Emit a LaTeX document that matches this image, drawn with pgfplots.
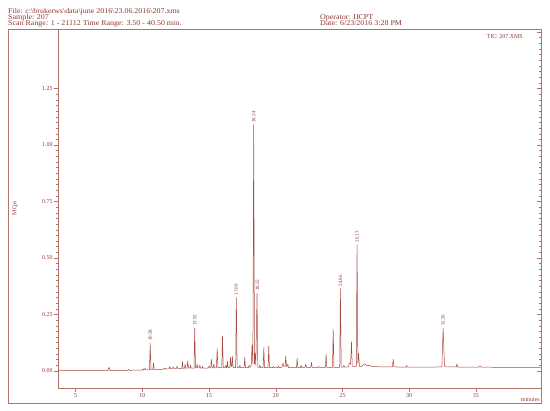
\documentclass[border=0pt]{standalone}
\usepackage{fontspec}
\setmainfont{Liberation Serif}
\newfontfamily\hdrfont[FakeStretch=1.08]{Liberation Serif}
\usepackage{pgfplots}
\pgfplotsset{compat=1.18}

\definecolor{txt}{RGB}{140,55,48}
\definecolor{trace}{RGB}{168,72,62}
\definecolor{frame}{RGB}{180,115,105}

\newcommand{\hdr}{\hdrfont\fontsize{7.4}{8}\selectfont\color{txt}}
\tikzset{pk/.style={font=\fontsize{5}{6}\selectfont, text=txt, rotate=90, anchor=west, inner sep=1bp}}

\begin{document}
\begin{tikzpicture}[x=1bp,y=1bp]

\begin{axis}[
  name=ax, at={(0,0)}, anchor=south west,
  scale only axis, width=483bp, height=358.5bp,
  xmin=3.67, xmax=39.88, ymin=-0.0754, ymax=1.5115,
  axis line style={frame, line width=0.6},
  every tick/.style={frame, line width=0.5},
  tick align=outside,
  major tick length=4bp, minor tick length=2bp,
  xtick={5,10,...,35}, xtick pos=bottom,
  ytick={0,0.25,...,1.25}, ytick pos=left,
  minor y tick num=9,
  y tick label style={/pgf/number format/fixed, /pgf/number format/fixed zerofill, /pgf/number format/precision=2},
  ticklabel style={font=\fontsize{6}{7}\selectfont, color=txt, inner sep=1.2bp},
  /pgf/number format/assume math mode=true,
  clip=false,
]
\addplot[trace, line width=0.5, line join=round] coordinates {
(3.67,0.001)(5,0.002)(6,0.002)(7.4,0.002)(7.5,0.017)(7.56,0.002)(8.5,0.003)(8.9,0.003)(8.95,0.007)(9.0,0.003)
(10.0,0.004)(10.05,0.01)(10.1,0.004)(10.2,0.012)(10.25,0.005)(10.53,0.005)(10.58,0.124)(10.64,0.006)(10.78,0.006)(10.83,0.034)(10.89,0.006)
(11.5,0.007)(11.7,0.013)(11.75,0.008)(12.0,0.01)(12.05,0.02)(12.1,0.011)(12.25,0.011)(12.3,0.018)(12.35,0.011)(12.55,0.011)(12.6,0.022)(12.65,0.011)
(12.95,0.012)(13.0,0.041)(13.05,0.012)(13.15,0.012)(13.2,0.03)(13.25,0.012)(13.35,0.013)(13.4,0.045)(13.45,0.013)(13.55,0.013)(13.6,0.025)(13.65,0.013)
(13.87,0.013)(13.92,0.19)(13.98,0.014)(14.05,0.014)(14.1,0.03)(14.15,0.014)(14.25,0.014)(14.3,0.025)(14.35,0.013)(14.45,0.013)(14.5,0.02)(14.55,0.013)
(14.9,0.013)(15.0,0.022)(15.05,0.014)(15.12,0.014)(15.17,0.052)(15.22,0.014)(15.3,0.014)(15.35,0.03)(15.4,0.014)(15.55,0.014)(15.6,0.10)(15.66,0.015)
(15.95,0.015)(16.0,0.155)(16.06,0.015)(16.2,0.015)(16.25,0.025)(16.3,0.015)(16.33,0.015)(16.37,0.044)(16.42,0.015)(16.55,0.015)(16.6,0.06)(16.65,0.02)
(16.7,0.02)(16.74,0.066)(16.8,0.015)(16.99,0.015)(17.04,0.325)(17.1,0.015)(17.25,0.015)(17.3,0.025)(17.35,0.015)(17.62,0.015)(17.67,0.06)(17.72,0.015)
(17.95,0.015)(18.0,0.025)(18.05,0.016)(18.15,0.02)(18.22,0.115)(18.28,0.03)(18.34,1.09)(18.4,0.03)(18.45,0.08)(18.5,0.025)(18.59,0.345)(18.65,0.016)
(18.75,0.016)(18.8,0.025)(18.85,0.015)(19.05,0.015)(19.1,0.105)(19.15,0.015)(19.42,0.015)(19.47,0.11)(19.52,0.015)(19.75,0.015)(19.8,0.02)(19.85,0.015)
(20.15,0.015)(20.2,0.022)(20.25,0.015)(20.45,0.016)(20.54,0.035)(20.6,0.02)(20.7,0.02)(20.74,0.066)(20.8,0.02)(20.85,0.02)(20.9,0.03)(20.95,0.015)
(21.55,0.015)(21.6,0.056)(21.65,0.015)(21.85,0.015)(21.9,0.025)(21.95,0.015)(22.19,0.016)(22.24,0.031)(22.29,0.016)(22.62,0.016)(22.67,0.038)(22.72,0.016)
(23.15,0.016)(23.2,0.02)(23.25,0.016)(23.72,0.016)(23.77,0.075)(23.82,0.016)(24.25,0.016)(24.3,0.186)(24.36,0.016)(24.79,0.016)(24.84,0.365)(24.9,0.017)
(25.05,0.017)(25.1,0.025)(25.15,0.017)(25.45,0.018)(25.5,0.035)(25.6,0.03)(25.67,0.13)(25.73,0.02)(26.03,0.02)(26.09,0.56)(26.15,0.03)(26.2,0.078)
(26.27,0.02)(26.45,0.02)(26.55,0.028)(26.7,0.031)(26.8,0.022)(27.0,0.025)(27.2,0.02)(27.5,0.019)(28.0,0.018)(28.74,0.018)(28.8,0.052)(28.86,0.018)
(29.5,0.017)(29.75,0.017)(29.8,0.024)(29.85,0.017)(31.5,0.017)(32.45,0.018)(32.54,0.19)(32.65,0.02)(32.8,0.018)(33.53,0.018)(33.58,0.031)(33.64,0.017)
(35.2,0.017)(35.3,0.022)(35.4,0.017)(37,0.016)(39.86,0.016)
};
% peak labels
\node[pk] at (axis cs:10.58,0.128) {10.58};
\node[pk] at (axis cs:13.92,0.194) {13.92};
\node[pk] at (axis cs:17.04,0.329) {17.00};
\node[pk] at (axis cs:18.34,1.094) {18.34};
\node[pk] at (axis cs:18.62,0.349) {18.55};
\node[pk] at (axis cs:24.84,0.369) {24.86};
\node[pk] at (axis cs:26.09,0.564) {26.13};
\node[pk] at (axis cs:32.54,0.194) {32.56};
\end{axis}

% right axis ticks (inward)
\begin{axis}[
  at={(ax.south west)}, anchor=south west,
  scale only axis, width=483bp, height=358.5bp,
  xmin=3.67, xmax=39.88, ymin=-0.0754, ymax=1.5115,
  axis line style={draw=none},
  every tick/.style={frame, line width=0.5},
  tick align=inside,
  major tick length=4bp, minor tick length=2bp,
  xtick=\empty,
  ytick={0,0.25,...,1.5}, ytick pos=right, yticklabels={},
  minor y tick num=9,
]
\end{axis}

% everything else in page pixels (origin = page lower left)
\begin{scope}[shift={(ax.south west)}, xshift=-58bp, yshift=-22bp]
\node[anchor=base west,inner sep=0] at (8,396.5) {\hdr File: c:\textbackslash brukerws\textbackslash data\textbackslash june 2016\textbackslash 23.06.2016\textbackslash 207.xms};
\node[anchor=base west,inner sep=0] at (8,390.5) {\hdr Sample: 207};
\node[anchor=base west,inner sep=0] at (8,384.5) {\hdr Scan Range: 1 - 21112 Time Range: 3.50 - 40.50 min.};
\node[anchor=base west,inner sep=0] at (320,390.5) {\hdr Operator: IICPT};
\node[anchor=base west,inner sep=0] at (320,384.5) {\hdr Date: 6/23/2016 3:28 PM};
\draw[frame, line width=0.6] (8,7) rectangle (541,380.5);
\node[anchor=base east,inner sep=0] at (523,371.5) {\fontsize{6}{7}\selectfont\color{txt}TIC: 207.XMS};
\node[anchor=base east,inner sep=0] at (540,9) {\fontsize{6}{7}\selectfont\color{txt}minutes};
\node[rotate=90,inner sep=0] at (15,202) {\fontsize{6}{7}\selectfont\color{txt}MCps};
\end{scope}

\pgfresetboundingbox
\path[use as bounding box, shift={(ax.south west)}, xshift=-58bp, yshift=-22bp] (0,0) rectangle (550,410);
\end{tikzpicture}
\end{document}
